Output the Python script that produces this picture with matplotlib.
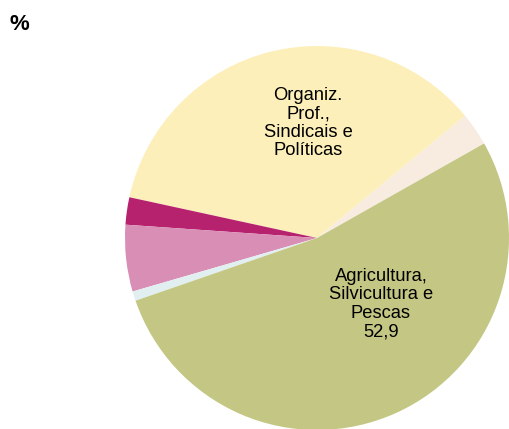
import numpy as np
import matplotlib
matplotlib.use("Agg")
import matplotlib.pyplot as plt

plt.rcParams['font.family'] = ['Liberation Sans', 'DejaVu Sans']

# slices, counter-clockwise from the green/peach boundary
sectors = ["Outros", "Organiz. Prof., Sindicais e Políticas", "Setor A", "Setor B",
           "Setor C", "Agricultura, Silvicultura e Pescas"]
values = [2.8, 35.6, 2.3, 5.6, 0.8, 52.9]
colors = ["#F8ECE1", "#FCEFBA", "#B7226F", "#D98EB5", "#E2EFF1", "#C4C783"]

fig = plt.figure(figsize=(5.10, 4.29), dpi=100)
ax = fig.add_axes([125 / 510, -1 / 429, 384 / 510, 384 / 429])

ax.pie(values, colors=colors, startangle=29.5, counterclock=True,
       wedgeprops=dict(linewidth=0))
ax.set_xlim(-1, 1)
ax.set_ylim(-1, 1)
ax.set_aspect("equal")
ax.axis("off")

ax.text(-0.047, 0.599, "Organiz.\nProf.,\nSindicais e\nPolíticas",
        ha="center", va="center", fontsize=13.2, linespacing=1.12)
ax.text(0.333, -0.344, "Agricultura,\nSilvicultura e\nPescas\n52,9",
        ha="center", va="center", fontsize=13.2, linespacing=1.12)

fig.text(10 / 510, 1 - 24 / 429, "%", fontsize=16, fontweight="bold",
         ha="left", va="center")

fig.savefig("out.png", dpi=100)
